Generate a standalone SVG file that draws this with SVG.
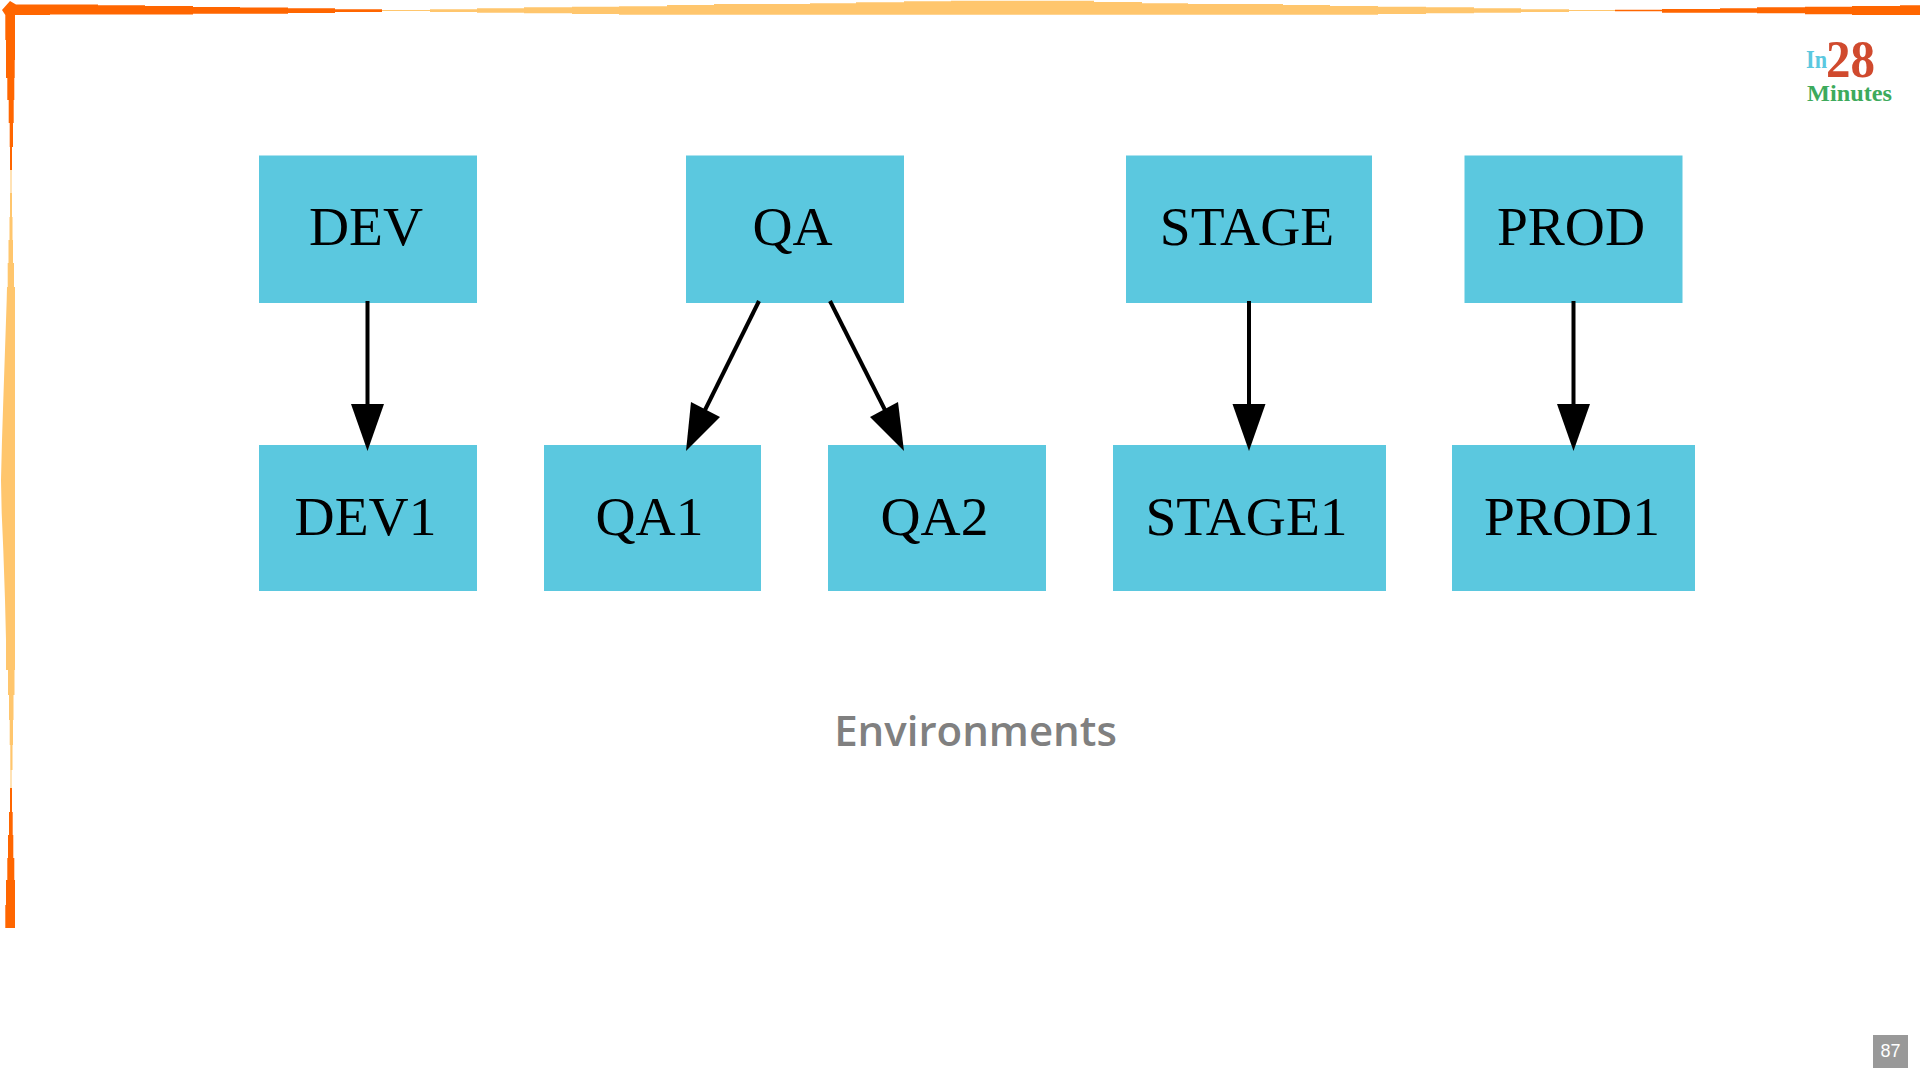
<svg xmlns="http://www.w3.org/2000/svg" width="1920" height="1080" viewBox="0 0 1920 1080">
<style>
.b{fill:#5bc8df}
.t{font-family:"Liberation Serif",serif;font-size:55.500px;fill:#000;text-anchor:middle}
.o{fill:#ff6600}
.l{fill:#ffc66d}
.c{stroke:#000;stroke-width:4;fill:none}
.h{fill:#000}
</style>
<rect width="1920" height="1080" fill="#fff"/>
<g id="frame">
<path class="o" d="M2 10 L10 1 L16 4.5 H50 V4.5 H98 V5.3 H145 V6 H193 V7 H240 V7.5 H288 V8.3 H335 V9.3 H382 V12 H335 V13 H288 V13.7 H193 V14.5 H50 V15 H15 V60 H14.7 V78 H14.3 V100 H13.7 V123 H13 V147 H12 V170 H10 V147 H9.7 V123 H8.7 V100 H7.3 V78 H6 V40 H5.3 V15 Z"/>
<path class="l" d="M382 10 H430 V9.3 H477 V8.3 H524 V7.3 H572 V6.7 H619 V6.3 H667 V5 H714 V4 H810 V3.3 H856 V2.3 H904 V1.3 H951 V0.7 H1094 V2 H1142 V3.3 H1188 V4 H1283 V5 H1330 V6 H1378 V6.7 H1426 V7.3 H1474 V8.3 H1521 V9.3 H1569 V10 H1615 V11 H1569 V12 H1521 V12.7 H1474 V13.3 H1426 V14 H1378 V14.7 H619 V14 H572 V13.3 H524 V12.7 H477 V12 H430 V11 H382 Z"/>
<path class="o" d="M1615 9.7 H1662 V9 H1720 V8.3 H1757 V7.3 H1805 V6.7 H1852 V6 H1900 V5.3 H1920 V15 H1852 V14.3 H1805 V13.3 H1757 V12.7 H1662 V11.3 H1615 Z"/>
<path class="l" d="M10.5 170 H11.5 V193 H12 V217 H12.5 V240 H13 V263 H14 V287 H15 V670 H14.5 V695 H13.5 V720 H13 V745 H12.5 V770 H11.5 V790 H10.5 V770 H10.3 V745 H9.7 V720 H9 V695 H8 V670 H6 V640 L5 600 L3.3 550 L1.7 513 L1 480 L2 440 L3.3 400 L5 350 L6.7 300 L7 287 H7.7 V263 H8.5 V240 H9.5 V217 H10 V193 H10.5 Z"/>
<path class="o" d="M10 788 H12 V812 H12.7 V835 H13.3 V858 H14.3 V880 H15 V928 H5.3 V905 H6 V880 H7.3 V858 H8 V835 H9 V812 H10 Z"/>
</g>
<g id="logo" font-family="Liberation Serif, serif" font-weight="bold">
<text x="1806" y="68" font-size="25" fill="#5bc8df" textLength="21" lengthAdjust="spacingAndGlyphs">In</text>
<text x="1826" y="77" font-size="52" fill="#d04a2e" textLength="49" lengthAdjust="spacingAndGlyphs">28</text>
<text x="1807" y="101" font-size="23" fill="#3daa5c" textLength="85" lengthAdjust="spacingAndGlyphs">Minutes</text>
</g>
<g id="DEV"><rect class="b" x="259" y="155.500" width="218" height="147.500"/><text class="t" x="366" y="245">DEV</text></g>
<g id="QA"><rect class="b" x="686" y="155.500" width="218" height="147.500"/><text class="t" x="792.500" y="245">QA</text></g>
<g id="STAGE"><rect class="b" x="1126" y="155.500" width="246" height="147.500"/><text class="t" x="1247" y="245">STAGE</text></g>
<g id="PROD"><rect class="b" x="1464.500" y="155.500" width="218" height="147.500"/><text class="t" x="1571" y="245">PROD</text></g>
<g id="DEV1"><rect class="b" x="259" y="445" width="218" height="146"/><text class="t" x="365.500" y="534.500">DEV1</text></g>
<g id="QA1"><rect class="b" x="544" y="445" width="217" height="146"/><text class="t" x="649.500" y="534.500">QA1</text></g>
<g id="QA2"><rect class="b" x="828" y="445" width="218" height="146"/><text class="t" x="934.500" y="534.500">QA2</text></g>
<g id="STAGE1"><rect class="b" x="1113" y="445" width="273" height="146"/><text class="t" x="1246.500" y="534.500">STAGE1</text></g>
<g id="PROD1"><rect class="b" x="1452" y="445" width="243" height="146"/><text class="t" x="1572" y="534.500">PROD1</text></g>
<g id="connectors">
<line class="c" x1="367.500" y1="301" x2="367.500" y2="408"/>
<polygon class="h" points="351,404 384,404 367.500,451"/>
<line class="c" x1="759" y1="301" x2="705" y2="410"/>
<polygon class="h" points="691,402 720,417 686,451"/>
<line class="c" x1="830" y1="301" x2="885" y2="410"/>
<polygon class="h" points="898,402 870,417 904,451"/>
<line class="c" x1="1249" y1="301" x2="1249" y2="408"/>
<polygon class="h" points="1232.500,404 1265.500,404 1249,451"/>
<line class="c" x1="1573.500" y1="301" x2="1573.500" y2="408"/>
<polygon class="h" points="1557,404 1590,404 1573.500,451"/>
</g>
<text id="caption" x="975.500" y="746" font-family="Open Sans, sans-serif" font-weight="600" font-size="42" fill="#808080" text-anchor="middle">Environments</text>
<g id="page"><rect x="1873" y="1035" width="35" height="33" fill="#999"/><text x="1890.500" y="1057" font-family="Liberation Sans, sans-serif" font-size="18" fill="#fff" text-anchor="middle">87</text></g>
</svg>
